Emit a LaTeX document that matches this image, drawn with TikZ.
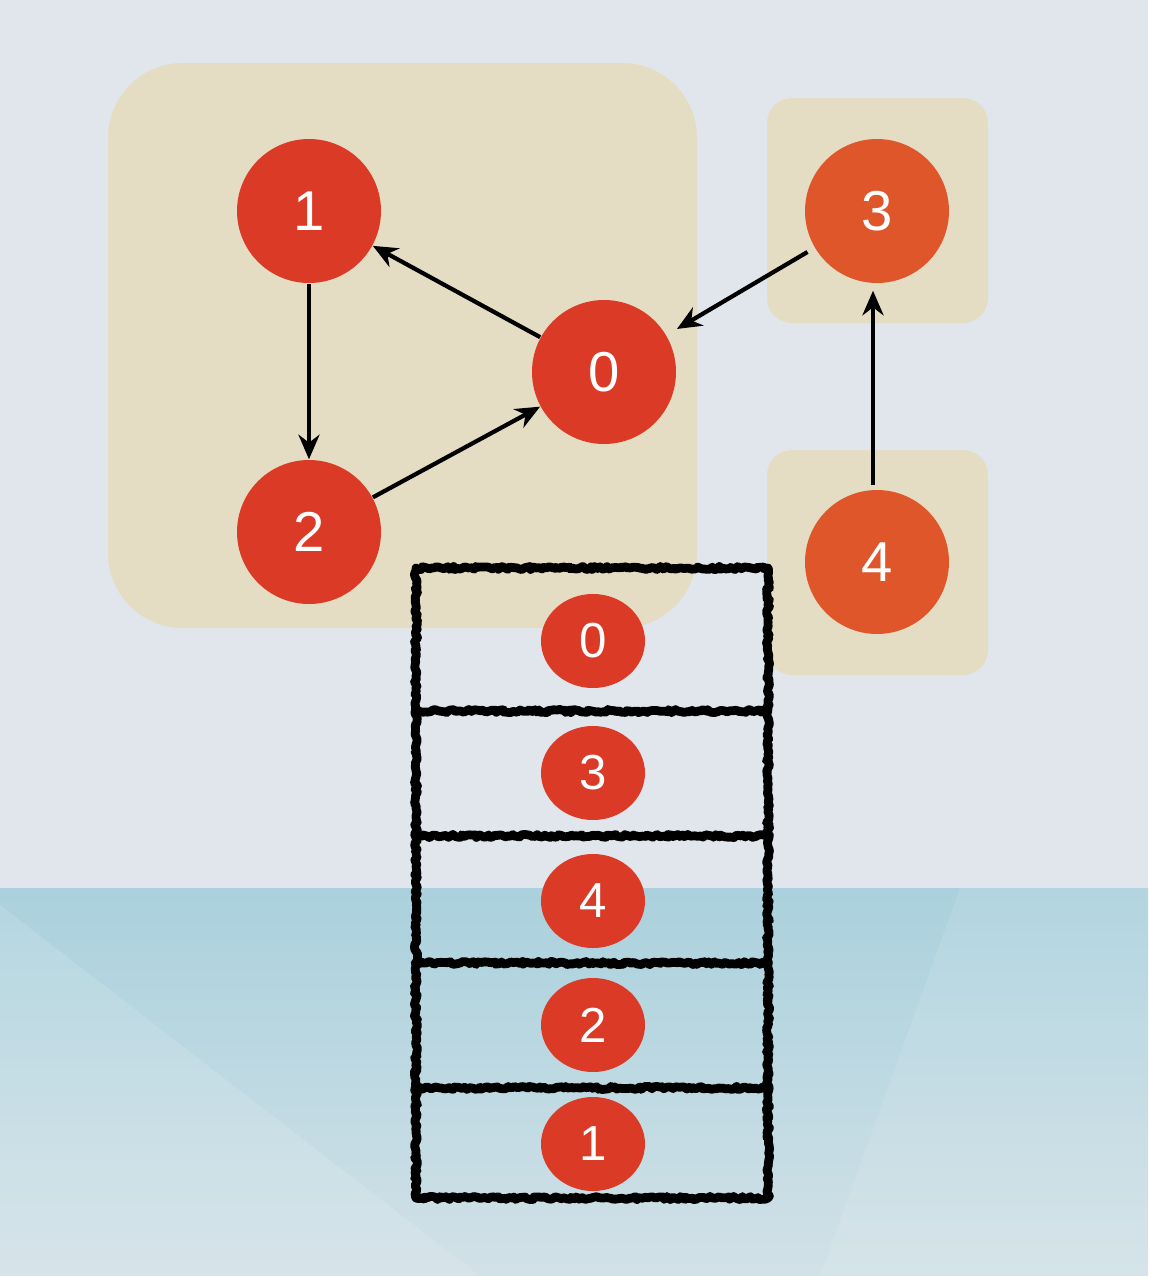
\documentclass[tikz,border=0pt]{standalone}
\usepackage{fontspec}
\setmainfont{Liberation Sans}
\usetikzlibrary{shapes.geometric, arrows.meta, positioning, decorations.pathmorphing}
\definecolor{bgtop}{RGB}{224, 230, 235}
\definecolor{bgwater}{RGB}{170, 209, 221}
\definecolor{bgwaterlow}{RGB}{210, 225, 231}
\definecolor{sccbeige}{RGB}{229, 221, 195}
\definecolor{vertexred}{RGB}{219, 58, 38}
\definecolor{vertexorange}{RGB}{224, 86, 43}

\tikzset{
    vertex/.style={circle, fill=vertexred, minimum size=1.44cm, inner sep=0pt,
        text=white, font=\fontsize{16}{18}\selectfont},
    lonevertex/.style={vertex, fill=vertexorange},
    slot/.style={ellipse, fill=vertexred, minimum width=1.04cm, minimum height=0.94cm,
        inner sep=0pt, text=white, font=\fontsize{14}{16}\selectfont},
    sccbox/.style={fill=sccbeige},
    edge/.style={-{Stealth[length=7pt, width=6pt]}, line width=1.2pt, black},
    roughline/.style={draw=black, line width=2.5pt, line join=round, line cap=round, decorate,
        decoration={random steps, segment length=0.7pt, amplitude=0.45pt}}
}

\begin{document}
\begin{tikzpicture}
    % background
    \useasboundingbox (0,0) rectangle (11.48,-12.76);
    \fill[bgtop] (0,0) rectangle (11.48,-8.88);
    \shade[top color=bgwater, bottom color=bgwaterlow] (0,-8.88) rectangle (11.48,-12.76);
    \fill[white, opacity=0.12] (0,-9.05) -- (4.8,-12.76) -- (0,-12.76) -- cycle;
    \fill[white, opacity=0.10] (9.6,-8.88) -- (11.48,-8.88) -- (11.48,-12.76) -- (8.2,-12.76) -- cycle;

    % components
    \fill[sccbox, rounded corners=0.75cm] (1.08,-0.63) rectangle (6.97,-6.28);
    \fill[sccbox, rounded corners=0.25cm] (7.67,-0.98) rectangle (9.88,-3.23);
    \fill[sccbox, rounded corners=0.25cm] (7.67,-4.50) rectangle (9.88,-6.75);

    % graph
    \node[vertex] (v1) at (3.09,-2.11) {1};
    \node[vertex] (v2) at (3.09,-5.32) {2};
    \node[vertex] (v0) at (6.04,-3.72) {0};
    \node[lonevertex] (v3) at (8.77,-2.11) {3};
    \node[lonevertex] (v4) at (8.77,-5.62) {4};

    \draw[edge] (v0) -- (v1);
    \draw[edge] (v1) -- (v2);
    \draw[edge] (v2) -- (v0);
    \draw[edge, shorten <=0.08cm, shorten >=0.12cm] (v3) -- (v0);
    \draw[edge, shorten <=0.04cm, shorten >=0.07cm] ([xshift=-0.04cm]v4.north) -- ([xshift=-0.04cm]v3.south);

    % stack
    \draw[roughline] (4.16,-5.68) rectangle (7.68,-11.98);
    \foreach \y in {-7.11,-8.36,-9.63,-10.88}
        \draw[roughline] (4.16,\y) -- (7.68,\y);
    \node[slot] (s0) at (5.93,-6.41) {0};
    \node[slot] (s3) at (5.93,-7.73) {3};
    \node[slot] (s4) at (5.93,-9.01) {4};
    \node[slot] (s2) at (5.93,-10.25) {2};
    \node[slot] (s1) at (5.93,-11.44) {1};
\end{tikzpicture}
\end{document}
